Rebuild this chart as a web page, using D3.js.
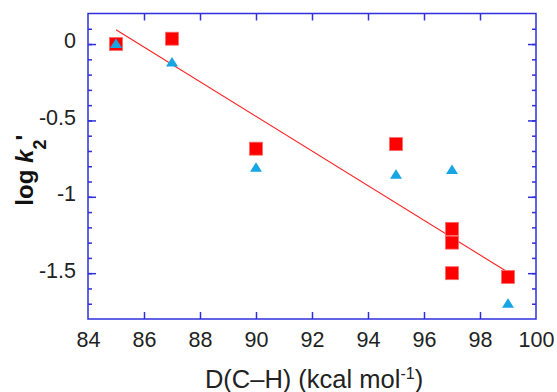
<!DOCTYPE html>
<html>
<head>
<meta charset="utf-8">
<script src="https://cdn.jsdelivr.net/npm/d3@7"></script>
<style>
  body { margin: 0; background: #fff; }
  svg { display: block; font-family: Arial, 'Liberation Sans', Helvetica, sans-serif; }
</style>
</head>
<body>
<svg id="chart"></svg>
<script>
// squares (red)
const sqX = [85, 87, 90, 95, 97, 97, 97, 99];
const sqY = [0.0, 0.035, -0.685, -0.655, -1.21, -1.30, -1.50, -1.525];
// triangles (blue)
const triX = [85, 87, 90, 95, 97, 99];
const triY = [0.0, -0.12, -0.81, -0.855, -0.825, -1.70];
// fitted line
const fitX = [85, 99];
const fitY = [0.094, -1.494];

const xTicks = [84, 86, 88, 90, 92, 94, 96, 98, 100];
const yTicks = [0, -0.5, -1, -1.5];
const yMinor = [0.1, 0, -0.1, -0.2, -0.3, -0.4, -0.5, -0.6, -0.7, -0.8, -0.9, -1, -1.1, -1.2, -1.3, -1.4, -1.5, -1.6, -1.7];

let margin = { top: 13.5, right: 21, bottom: 73, left: 88 },
  W = 557, H = 392,
  width = W - margin.left - margin.right,
  height = H - margin.top - margin.bottom;

const axisColor = '#2f2fdc';

let svg = d3.select('#chart')
  .attr('width', W)
  .attr('height', H)
  .append('g')
  .attr('transform', 'translate(' + margin.left + ',' + margin.top + ')');

let x = d3.scaleLinear().domain([84, 100]).range([0, width]);
let y = d3.scaleLinear().domain([-1.8, 0.2]).range([height, 0]);

function style(g) {
  g.select('.domain').remove();
  g.selectAll('line').attr('stroke', axisColor).attr('stroke-width', 1.5);
  g.selectAll('text').attr('fill', '#222').style('font-size', '21.5px');
}

// bottom
svg.append('g')
  .attr('transform', 'translate(0,' + height + ')')
  .call(d3.axisBottom(x).tickValues(xTicks).tickSize(-7).tickSizeOuter(0).tickPadding(13).tickFormat(d => String(d)))
  .call(style)
  .call(g => g.selectAll('.tick').filter(d => d === 84 || d === 100).select('line').remove());

// top
svg.append('g')
  .call(d3.axisTop(x).tickValues(xTicks.slice(1, -1)).tickSize(-7).tickFormat(''))
  .call(style);

// left minor + major
svg.append('g')
  .call(d3.axisLeft(y).tickValues(yMinor).tickSize(-4).tickFormat(''))
  .call(style);
svg.append('g')
  .call(d3.axisLeft(y).tickValues(yTicks).tickSize(-8).tickPadding(12).tickFormat(d => String(d)))
  .call(style)
  .call(g => g.selectAll('text').attr('dy', '0.18em'));

// right minor + major
svg.append('g')
  .attr('transform', 'translate(' + width + ',0)')
  .call(d3.axisRight(y).tickValues(yMinor).tickSize(-4).tickFormat(''))
  .call(style);
svg.append('g')
  .attr('transform', 'translate(' + width + ',0)')
  .call(d3.axisRight(y).tickValues(yTicks).tickSize(-8).tickFormat(''))
  .call(style);

// frame
svg.append('rect')
  .attr('width', width)
  .attr('height', height)
  .attr('fill', 'none')
  .attr('stroke', axisColor)
  .attr('stroke-width', 1.5);

// fit line
svg.append('path')
  .datum(fitX.map((d, i) => [d, fitY[i]]))
  .attr('fill', 'none')
  .attr('stroke', '#ff2020')
  .attr('stroke-width', 1.1)
  .attr('d', d3.line().x(d => x(d[0])).y(d => y(d[1])));

// squares
const s = 13;
svg.append('g').selectAll('rect')
  .data(sqX.map((d, i) => [d, sqY[i]]))
  .join('rect')
  .attr('x', d => x(d[0]) - s / 2)
  .attr('y', d => y(d[1]) - s / 2)
  .attr('width', s)
  .attr('height', s)
  .attr('fill', '#ff0000')
  .attr('stroke', '#ff6a6a')
  .attr('stroke-width', 0.8);

// triangles
svg.append('g').selectAll('path')
  .data(triX.map((d, i) => [d, triY[i]]))
  .join('path')
  .attr('d', d => {
    let cx = x(d[0]), cy = y(d[1]);
    return 'M' + cx + ',' + (cy - 5.5) + 'L' + (cx + 6) + ',' + (cy + 4) + 'L' + (cx - 6) + ',' + (cy + 4) + 'Z';
  })
  .attr('fill', '#17a6e3');

// axis titles
let xt = svg.append('text')
  .attr('x', width / 2 + 2)
  .attr('y', H - margin.top - 4.5)
  .attr('text-anchor', 'middle')
  .attr('fill', '#222')
  .style('font-size', '25.5px');
xt.append('tspan').text('D(C\u2013H) (kcal mol');
xt.append('tspan').attr('dy', '-9px').style('font-size', '16px').text('-1');
xt.append('tspan').attr('dy', '9px').text(')');

let yt = svg.append('text')
  .attr('transform', 'translate(' + (33 - margin.left) + ',' + (height / 2 + 4) + ') rotate(-90)')
  .attr('text-anchor', 'middle')
  .attr('fill', '#111')
  .style('font-size', '24px')
  .style('font-weight', 'bold');
yt.append('tspan').text('log ');
yt.append('tspan').style('font-style', 'italic').text('k');
yt.append('tspan').attr('dy', '13px').style('font-size', '18px').text('2');
yt.append('tspan').attr('dy', '-13px').attr('dx', '-1px').text("'");
</script>
</body>
</html>
